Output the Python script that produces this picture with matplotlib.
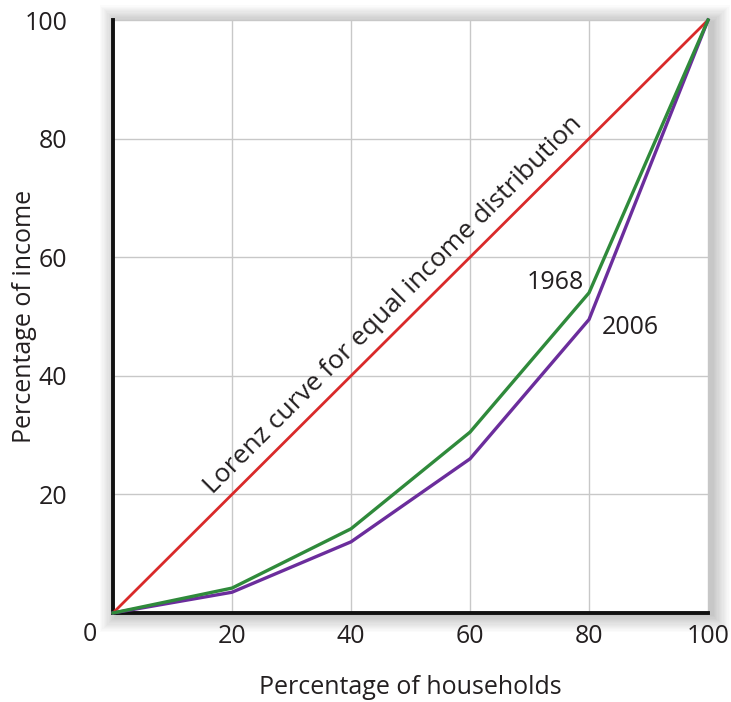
import matplotlib
matplotlib.use("Agg")
import matplotlib.pyplot as plt
from matplotlib.patches import Rectangle

plt.rcParams['font.family'] = ['Open Sans', 'DejaVu Sans']

# cumulative share of households vs cumulative share of income
households = [0, 20, 40, 60, 80, 100]
income_equal = [0, 20, 40, 60, 80, 100]
income_1968 = [0, 4.2, 14.2, 30.5, 54.0, 100]
income_2006 = [0, 3.5, 12.0, 26.0, 49.5, 100]
tick_vals = [20, 40, 60, 80, 100]

fig = plt.figure(figsize=(7.31, 7.02), dpi=100)
ax = fig.add_axes([0.1546, 0.1268, 0.814, 0.8447])

# soft drop shadow around the plot frame
x0, y0, w, h = 0.1546, 0.1268, 0.814, 0.8447
for i in range(14):
    pad = 0.0017 * (i + 1)
    fig.add_artist(Rectangle((x0 - pad + 0.006, y0 - pad - 0.003), w + 2 * pad, h + 2 * pad,
                             transform=fig.transFigure, facecolor='black',
                             edgecolor='none', alpha=0.016, zorder=-1))

txt = '#231f20'
ax.set_facecolor('white')
ax.plot(households, income_equal, color='#d92a2a', lw=2.0, clip_on=False, zorder=3)
ax.plot(households, income_2006, color='#6b2d9c', lw=2.4, clip_on=False, zorder=3)
ax.plot(households, income_1968, color='#2f8a3b', lw=2.4, clip_on=False, zorder=4)

ax.set_xlim(0, 100)
ax.set_ylim(0, 100)
ax.set_xticks(tick_vals)
ax.set_yticks(tick_vals)
ax.tick_params(length=0, labelsize=18, colors=txt)
ax.tick_params(axis='x', pad=8)
ax.tick_params(axis='y', pad=33)
ax.grid(True, color='#c8c8c8', lw=1.0)
ax.set_axisbelow(True)

for s in ['top', 'right']:
    ax.spines[s].set_visible(False)
for s in ['left', 'bottom']:
    ax.spines[s].set_linewidth(2.8)
    ax.spines[s].set_color('#111111')

ax.text(-3.9, -3.6, '0', fontsize=18, color=txt, ha='center', va='center', clip_on=False)

ax.set_xlabel('Percentage of households', fontsize=18, color=txt)
ax.xaxis.set_label_coords(0.5, -0.126)
ax.xaxis.label.set_va('center')
ax.set_ylabel('Percentage of income', fontsize=18, color=txt)
ax.yaxis.set_label_coords(-0.148, 0.5)
ax.yaxis.label.set_va('center')

ax.text(47.1, 51.9, 'Lorenz curve for equal income distribution', fontsize=19,
        color=txt, rotation=45, ha='center', va='center')
ax.text(74.3, 55.8, '1968', fontsize=18, color=txt, ha='center', va='center')
ax.text(87.0, 48.1, '2006', fontsize=18, color=txt, ha='center', va='center')

fig.savefig('out.png', dpi=100, facecolor='white')
